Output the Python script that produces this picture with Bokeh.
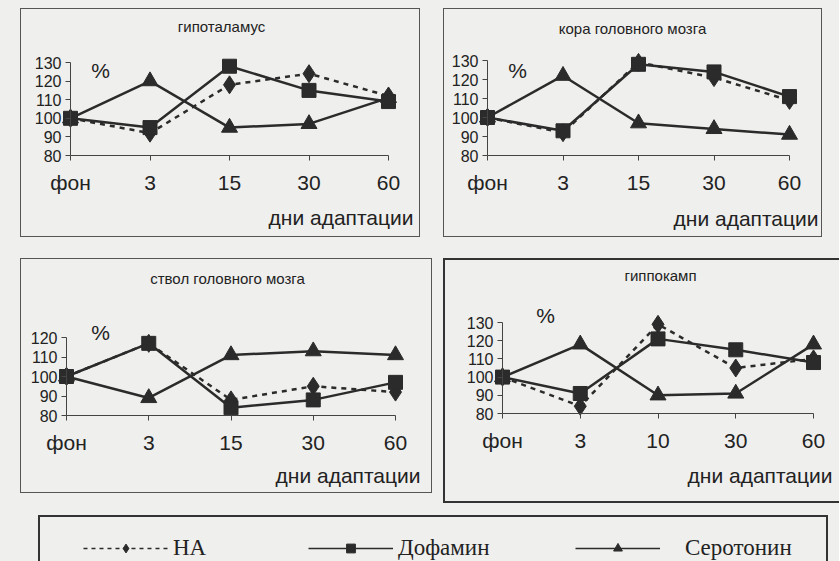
from bokeh.plotting import figure
from bokeh.models import Range1d, FixedTicker, Label, Spacer, Legend, LegendItem
from bokeh.layouts import row, column
from bokeh.embed import file_html
from bokeh.resources import INLINE

# ---------------- data ----------------
days = [0, 1, 2, 3, 4]
x_labels = ["фон", "3", "15", "30", "60"]
x_labels_hippo = ["фон", "3", "10", "30", "60"]

hypo_na = [100, 92, 118, 124, 112]
hypo_da = [100, 95, 128, 115, 109]
hypo_5ht = [100, 120, 95, 97, 111]

cortex_na = [100, 92, 129, 121, 109]
cortex_da = [100, 93, 128, 124, 111]
cortex_5ht = [100, 122, 97, 94, 91]

stem_na = [100, 117, 88, 95, 92]
stem_da = [100, 117, 84, 88, 97]
stem_5ht = [100, 89, 111, 113, 111]

hippo_na = [100, 84, 129, 105, 110]
hippo_da = [100, 91, 121, 115, 108]
hippo_5ht = [100, 118, 90, 91, 118]

y_ticks_130 = [80, 90, 100, 110, 120, 130]
y_ticks_120 = [80, 90, 100, 110, 120]

titles = ["гипоталамус", "кора головного мозга", "ствол головного мозга", "гиппокамп"]
series_names = ["НА", "Дофамин", "Серотонин"]
axis_title = "дни адаптации"

# ---------------- style / layout (page pixels) ----------------
BG = "#efefed"
INK = "#2b2b2b"
AXIS = "#444444"
TXT = "#222222"
SANS = "Liberation Sans"
SERIF = "Liberation Serif"

# box interior (left, top, width, height), axis pixel anchors, text anchors
L1 = dict(box=(21, 9, 398, 227), x0=70, x4=388, ybot=155, ytop=62,
          title=(221, 26), pct=(100, 70), days=(413, 217))
L2 = dict(box=(444, 9, 377, 227), x0=487, x4=789, ybot=155, ytop=60,
          title=(632, 28), pct=(517, 70), days=(818, 218))
L3 = dict(box=(21, 259, 410, 233), x0=66, x4=395, ybot=415, ytop=337,
          title=(227, 278), pct=(100, 332), days=(420, 475))
L4 = dict(box=(445, 260, 394, 241), x0=502, x4=813, ybot=413, ytop=322,
          title=(660, 275), pct=(545, 315), days=(832, 475))


def make_panel(lay, labels, na, da, ser, ymax, yticks, title):
    L, T, W, H = lay["box"]
    kx = (lay["x4"] - lay["x0"]) / (len(days) - 1)
    ky = (lay["ybot"] - lay["ytop"]) / (ymax - 80)

    def dx(px):
        return (px - lay["x0"]) / kx

    def dy(py):
        return 80 + (lay["ybot"] - py) / ky

    p = figure(width=W, height=H, x_range=Range1d(dx(L), dx(L + W)),
               y_range=Range1d(dy(T + H), dy(T)),
               output_backend="svg", toolbar_location=None, min_border=0,
               background_fill_color=BG, border_fill_color=BG, outline_line_color=None)
    p.grid.visible = False
    p.xaxis.fixed_location = 80
    p.yaxis.fixed_location = 0
    p.xaxis.bounds = (0, 4)
    p.yaxis.bounds = (80, ymax)
    p.xaxis.ticker = FixedTicker(ticks=days)
    p.xaxis.major_label_overrides = {d: l for d, l in zip(days, labels)}
    p.yaxis.ticker = FixedTicker(ticks=yticks)
    for ax in (p.xaxis, p.yaxis):
        ax.axis_line_color = AXIS
        ax.axis_line_width = 1
        ax.major_tick_line_color = AXIS
        ax.major_tick_out = 5
        ax.major_tick_in = 0
        ax.minor_tick_line_color = None
        ax.major_label_text_font = SANS
        ax.major_label_text_color = TXT
    p.xaxis.major_label_text_font_size = "21px"
    p.xaxis.major_label_standoff = 10
    p.yaxis.major_label_text_font_size = "16px"
    p.yaxis.major_label_standoff = 4

    p.line(days, na, line_color=INK, line_width=2.5, line_dash="5 5")
    p.scatter(days, na, marker="diamond", size=18, fill_color=INK, line_color=INK)
    p.line(days, ser, line_color=INK, line_width=2.5)
    p.scatter(days, ser, marker="triangle", size=16, fill_color=INK, line_color=INK)
    p.line(days, da, line_color=INK, line_width=2.5)
    p.scatter(days, da, marker="square", size=14, fill_color=INK, line_color=INK)

    tx, ty = lay["title"]
    p.add_layout(Label(x=dx(tx), y=dy(ty), text=title, text_align="center",
                       text_baseline="middle", text_font=SANS, text_font_size="15px",
                       text_color=TXT))
    px_, py_ = lay["pct"]
    p.add_layout(Label(x=dx(px_), y=dy(py_), text="%", text_align="center",
                       text_baseline="middle", text_font=SANS, text_font_size="21px",
                       text_color=TXT))
    ax_, ay_ = lay["days"]
    p.add_layout(Label(x=dx(ax_), y=dy(ay_), text=axis_title, text_align="right",
                       text_baseline="middle", text_font=SANS, text_font_size="21px",
                       text_color=TXT))
    return p


p1 = make_panel(L1, x_labels, hypo_na, hypo_da, hypo_5ht, 130, y_ticks_130, titles[0])
p2 = make_panel(L2, x_labels, cortex_na, cortex_da, cortex_5ht, 130, y_ticks_130, titles[1])
p3 = make_panel(L3, x_labels, stem_na, stem_da, stem_5ht, 120, y_ticks_120, titles[2])
p4 = make_panel(L4, x_labels_hippo, hippo_na, hippo_da, hippo_5ht, 130, y_ticks_130, titles[3])

thin = {"border": "1px solid #555555", "background-color": BG}
box1 = column(p1, styles=thin)
box2 = column(p2, styles=thin)
box3 = column(p3, styles=thin)
box4 = column(p4, styles={"border-left": "2px solid #333333", "border-top": "2px solid #333333",
                          "border-bottom": "2px solid #333333", "background-color": BG})

# ---------------- legend ----------------
pl = figure(width=786, height=44, x_range=Range1d(10, 11), y_range=Range1d(10, 11),
            x_axis_type=None, y_axis_type=None, output_backend="svg", toolbar_location=None,
            min_border=0, background_fill_color=BG, border_fill_color=BG, outline_line_color=None)
l_na = pl.line(days, hypo_na, line_color=INK, line_width=1.5, line_dash="4 4")
m_na = pl.scatter(days, hypo_na, marker="diamond", size=10, fill_color=INK, line_color=INK)
l_da = pl.line(days, hypo_da, line_color=INK, line_width=1.5)
m_da = pl.scatter(days, hypo_da, marker="square", size=8, fill_color=INK, line_color=INK)
l_5 = pl.line(days, hypo_5ht, line_color=INK, line_width=1.5)
m_5 = pl.scatter(days, hypo_5ht, marker="triangle", size=9, fill_color=INK, line_color=INK)

leg_specs = [(series_names[0], [l_na, m_na], 43, 5),
             (series_names[1], [l_da, m_da], 268, 5),
             (series_names[2], [l_5, m_5], 535, 25)]
for name, rends, lx, stand in leg_specs:
    pl.add_layout(Legend(items=[LegendItem(label=name, renderers=rends)],
                         location=(lx, 0), glyph_width=85, glyph_height=22,
                         label_standoff=stand, padding=0, margin=0,
                         border_line_color=None, background_fill_alpha=0,
                         label_text_font=SERIF, label_text_font_size="23px",
                         label_text_color=TXT, label_text_baseline="middle"))

boxl = column(pl, styles={"border-left": "2px solid #333333", "border-top": "2px solid #333333",
                          "border-right": "2px solid #333333", "background-color": BG})

layout = column(
    Spacer(width=10, height=8),
    row(Spacer(width=20, height=229), box1, Spacer(width=23, height=229), box2),
    Spacer(width=10, height=21),
    row(Spacer(width=20, height=245), box3, Spacer(width=11, height=245), box4),
    Spacer(width=10, height=12),
    row(Spacer(width=38, height=46), boxl),
    styles={"background-color": BG},
)

open("out.html", "w").write(file_html(layout, INLINE))
